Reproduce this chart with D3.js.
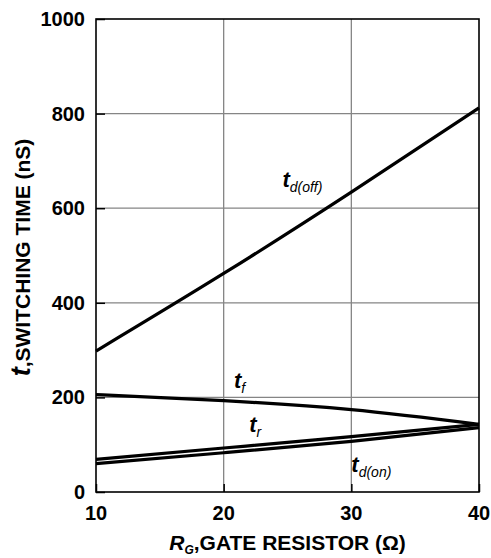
<!DOCTYPE html>
<html><head><meta charset="utf-8">
<script src="https://cdn.jsdelivr.net/npm/d3@7"></script>
<style>html,body{margin:0;padding:0;background:#fff;} text{font-family:"Liberation Sans",Arial,sans-serif;}</style>
</head><body>
<svg id="c" width="491" height="558"></svg>
<script>
const rg = [10, 20, 30, 40];
const tdOff = [298, 462, 634, 812];
const tf = [206, 193, 174, 143];
const tr = [69, 93, 117, 143];
const tdOn = [60, 83, 107, 136];
const xTicks = [10, 20, 30, 40];
const yTicks = [0, 200, 400, 600, 800, 1000];

const svg = d3.select("#c");
const L = 96, R = 479, T = 19, B = 492;
const x = d3.scaleLinear().domain([10, 40]).range([L, R]);
const y = d3.scaleLinear().domain([0, 1000]).range([B, T]);

// grid
svg.append("g").selectAll("line.v").data(xTicks.slice(1, -1)).join("line")
  .attr("x1", d => x(d)).attr("x2", d => x(d)).attr("y1", T).attr("y2", B)
  .attr("stroke", "#858585").attr("stroke-width", 1.3);
svg.append("g").selectAll("line.h").data(yTicks.slice(1, -1)).join("line")
  .attr("x1", L).attr("x2", R).attr("y1", d => y(d)).attr("y2", d => y(d))
  .attr("stroke", "#858585").attr("stroke-width", 1.3);

// axes with inward ticks
const yAxis = d3.axisLeft(y).tickValues(yTicks).tickSize(-9).tickFormat("");
const gy = svg.append("g").attr("transform", `translate(${L},0)`).call(yAxis);
const xAxis = d3.axisBottom(x).tickValues(xTicks).tickSize(-8).tickFormat("");
const gx = svg.append("g").attr("transform", `translate(0,${B})`).call(xAxis);
[gy, gx].forEach(g => { g.select(".domain").remove(); g.selectAll("line").attr("stroke", "#000").attr("stroke-width", 1.5); });

// frame
svg.append("rect").attr("x", L).attr("y", T).attr("width", R - L).attr("height", B - T)
  .attr("fill", "none").attr("stroke", "#000").attr("stroke-width", 1.6);

// tick labels
svg.append("g").selectAll("text").data(yTicks).join("text")
  .attr("x", L - 11).attr("y", d => y(d) + 7).attr("text-anchor", "end")
  .attr("font-size", 20).attr("font-weight", "bold").text(d => d);
svg.append("g").selectAll("text").data(xTicks).join("text")
  .attr("x", d => x(d)).attr("y", B + 28).attr("text-anchor", "middle")
  .attr("font-size", 20).attr("font-weight", "bold").text(d => d);

// series
const line = d3.line().x((d, i) => x(rg[i])).y(d => y(d)).curve(d3.curveNatural);
[tdOff, tf, tr, tdOn].forEach(s => {
  svg.append("path").datum(s).attr("d", line).attr("fill", "none")
    .attr("stroke", "#000").attr("stroke-width", 3.2).attr("stroke-linejoin", "round");
});

// series labels
function lab(px, py, sub) {
  const t = svg.append("text").attr("x", px).attr("y", py);
  t.append("tspan").attr("font-size", 22).attr("font-weight", "bold").attr("font-style", "italic").text("t");
  t.append("tspan").attr("font-size", 14).attr("font-style", "italic").attr("dy", 5).text(sub);
}
lab(x(24.6), 187, "d(off)");
lab(x(20.8), 388, "f");
lab(x(22.0), 432, "r");
lab(x(30.0), 472, "d(on)");

// x axis title
const xt = svg.append("text").attr("x", (L + R) / 2 + 0).attr("y", 550).attr("text-anchor", "middle").attr("font-size", 21).attr("font-weight", "bold");
xt.append("tspan").attr("font-style", "italic").text("R");
xt.append("tspan").attr("font-style", "italic").attr("font-size", 12).attr("dy", 4).text("G");
xt.append("tspan").attr("dy", -4).text(",GATE RESISTOR (Ω)");

// y axis title
const yt = svg.append("text").attr("transform", `translate(30,${(T + B) / 2 + 2}) rotate(-90)`)
  .attr("text-anchor", "middle").attr("font-size", 21).attr("font-weight", "bold");
yt.append("tspan").attr("font-style", "italic").attr("font-size", 27).text("t");
yt.append("tspan").text(",SWITCHING TIME (nS)");
</script>
</body></html>
